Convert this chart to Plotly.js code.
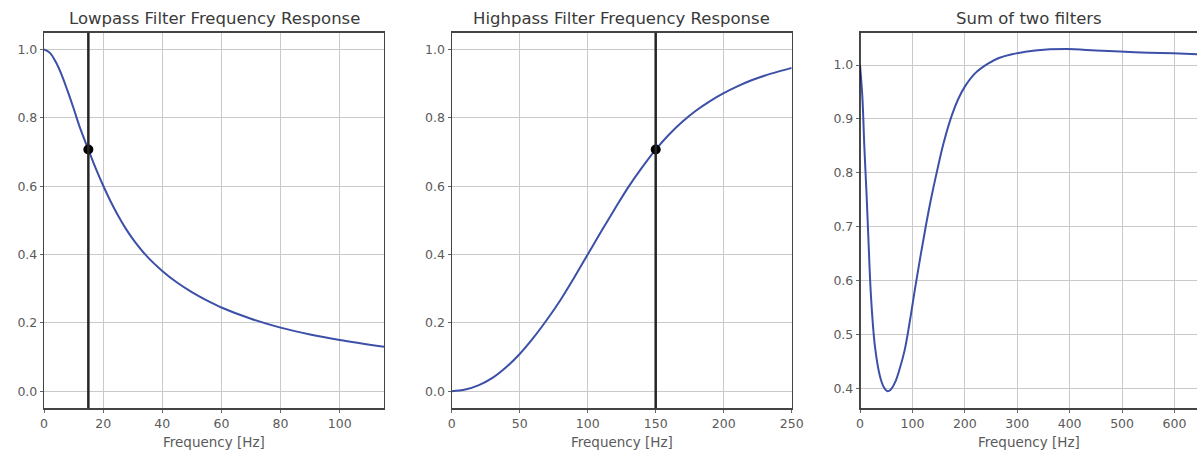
<!DOCTYPE html>
<html>
<head>
<meta charset="utf-8">
<script src="https://cdn.plot.ly/plotly-3.0.1.min.js"></script>
<style>html,body{margin:0;padding:0;background:#fff;}#chart{width:1197px;height:450px;}</style>
</head>
<body>
<div id="chart"></div>
<script>
// ---- Data ----
const lowFreq = [0, 2, 4, 6, 8, 10, 12, 15, 17.5, 20, 22.5, 25, 27.5, 30, 35, 40, 45, 50, 55, 60, 70, 80, 90, 100, 115];
const lowMag  = [1.0, 0.99, 0.963, 0.925, 0.878, 0.828, 0.775, 0.707, 0.652, 0.602, 0.556, 0.515, 0.478, 0.446, 0.393, 0.352, 0.318, 0.290, 0.266, 0.245, 0.212, 0.186, 0.166, 0.150, 0.130];
const lowCutoff = [15];
const lowCutoffMag = [0.707];

const highFreq = [0, 10, 20, 30, 40, 50, 60, 70, 80, 90, 100, 110, 120, 130, 140, 150, 160, 170, 180, 190, 200, 210, 220, 230, 240, 250];
const highMag  = [0.0, 0.005, 0.018, 0.039, 0.070, 0.109, 0.156, 0.209, 0.267, 0.332, 0.400, 0.468, 0.534, 0.598, 0.655, 0.707, 0.752, 0.790, 0.822, 0.849, 0.872, 0.892, 0.909, 0.923, 0.935, 0.946];
const highCutoff = [150];
const highCutoffMag = [0.707];

const sumFreq = [0, 4.5, 8.3, 12.7, 15.9, 21, 28.6, 38.2, 45, 52, 58, 66.8, 75, 85, 95, 105, 115, 125, 135, 146, 160, 175, 187, 200, 220, 245, 265, 290, 334, 394, 450, 496, 550, 598, 643];
const sumMag  = [1.0, 0.941, 0.848, 0.756, 0.681, 0.570, 0.477, 0.422, 0.403, 0.395, 0.397, 0.411, 0.434, 0.470, 0.524, 0.585, 0.643, 0.698, 0.749, 0.799, 0.857, 0.906, 0.936, 0.960, 0.985, 1.003, 1.013, 1.020, 1.027, 1.0297, 1.027, 1.025, 1.023, 1.0217, 1.020];

const titles = ["Lowpass Filter Frequency Response", "Highpass Filter Frequency Response", "Sum of two filters"];
const xLabel = "Frequency [Hz]";

// ---- Styling ----
const W = 1197, H = 450;
const curveColor = '#3c50a8';
const gridColor = '#c9c9c9';
const tickColor = '#5a5a5a';
const fontFam = 'DejaVu Sans, sans-serif';

function dom(a, b, total) { return [a / total, b / total]; }
const yDom = [1 - 408.3 / H, 1 - 32.7 / H];

function xAxis(domain, range, dtick, anchor) {
  return {
    domain: domain, range: range, dtick: dtick, tick0: 0, anchor: anchor,
    showgrid: true, gridcolor: gridColor, gridwidth: 1,
    zeroline: false, showline: true, linecolor: '#444', linewidth: 1.2, mirror: true,
    ticks: 'outside', ticklen: 3, tickcolor: '#666', tickwidth: 1,
    tickfont: {family: fontFam, size: 12.5, color: tickColor},
    fixedrange: true
  };
}
function yAxis(range, dtick, anchor, fmt) {
  return {
    domain: yDom, range: range, dtick: dtick, tick0: 0, anchor: anchor,
    showgrid: true, gridcolor: gridColor, gridwidth: 1,
    zeroline: false, showline: true, linecolor: '#444', linewidth: 1.2, mirror: true,
    ticks: 'outside', ticklen: 3, tickcolor: '#666', tickwidth: 1,
    tickformat: fmt,
    tickfont: {family: fontFam, size: 12.5, color: tickColor},
    fixedrange: true
  };
}

const x1d = dom(44, 384, W), x2d = dom(451.7, 791.7, W), x3d = dom(860, 1197, W);
const lineStyle = {color: curveColor, width: 2, shape: 'spline', smoothing: 1.0};

const traces = [
  {x: lowFreq, y: lowMag, xaxis: 'x', yaxis: 'y', mode: 'lines', line: lineStyle, hoverinfo: 'skip'},
  {x: lowCutoff, y: lowCutoffMag, xaxis: 'x', yaxis: 'y', mode: 'markers', marker: {color: '#000', size: 10}, hoverinfo: 'skip'},
  {x: highFreq, y: highMag, xaxis: 'x2', yaxis: 'y2', mode: 'lines', line: lineStyle, hoverinfo: 'skip'},
  {x: highCutoff, y: highCutoffMag, xaxis: 'x2', yaxis: 'y2', mode: 'markers', marker: {color: '#000', size: 10}, hoverinfo: 'skip'},
  {x: sumFreq, y: sumMag, xaxis: 'x3', yaxis: 'y3', mode: 'lines', line: lineStyle, hoverinfo: 'skip'}
];

const shapes = [
  {type: 'line', xref: 'x', yref: 'y domain', x0: lowCutoff[0], x1: lowCutoff[0], y0: 0, y1: 1, line: {color: '#262626', width: 2.5}, layer: 'above'},
  {type: 'line', xref: 'x2', yref: 'y2 domain', x0: highCutoff[0], x1: highCutoff[0], y0: 0, y1: 1, line: {color: '#262626', width: 2.5}, layer: 'above'},
  {type: 'line', xref: 'x3', yref: 'y3 domain', x0: 0, x1: 0, y0: 0, y1: 1, line: {color: '#111', width: 1.5}, layer: 'above'}
];

function titleAnn(text, xd) {
  return {text: text, xref: 'paper', yref: 'paper', x: (xd[0] + xd[1]) / 2, y: 1 - 18 / H,
    xanchor: 'center', yanchor: 'middle', showarrow: false,
    font: {family: fontFam, size: 16.5, color: '#3a3a3a'}};
}
function xlabAnn(xd) {
  return {text: xLabel, xref: 'paper', yref: 'paper', x: (xd[0] + xd[1]) / 2, y: 1 - 442 / H,
    xanchor: 'center', yanchor: 'middle', showarrow: false,
    font: {family: fontFam, size: 13.5, color: tickColor}};
}

const layout = {
  width: W, height: H,
  margin: {l: 0, r: 0, t: 0, b: 0, pad: 0},
  paper_bgcolor: '#fff', plot_bgcolor: '#fff',
  showlegend: false,
  xaxis: xAxis(x1d, [0, 115], 20, 'y'),
  yaxis: yAxis([-0.05, 1.049], 0.2, 'x', '.1f'),
  xaxis2: xAxis(x2d, [0, 250], 50, 'y2'),
  yaxis2: yAxis([-0.05, 1.049], 0.2, 'x2', '.1f'),
  xaxis3: xAxis(x3d, [0, 643], 100, 'y3'),
  yaxis3: yAxis([0.363, 1.06], 0.1, 'x3', '.1f'),
  shapes: shapes,
  annotations: [titleAnn(titles[0], x1d), titleAnn(titles[1], x2d), titleAnn(titles[2], x3d),
                xlabAnn(x1d), xlabAnn(x2d), xlabAnn(x3d)]
};

Plotly.newPlot('chart', traces, layout, {staticPlot: true, displayModeBar: false});
</script>
</body>
</html>
